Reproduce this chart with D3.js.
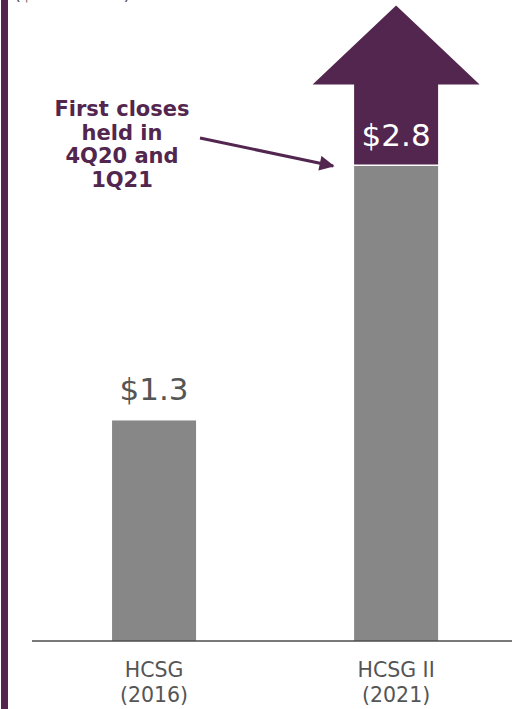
<!DOCTYPE html>
<html>
<head>
<meta charset="utf-8">
<script src="https://cdn.jsdelivr.net/npm/d3@7"></script>
<style>
  html, body { margin: 0; padding: 0; background: #fff; }
  svg { display: block; }
</style>
</head>
<body>
<script>
// Fund sizes, $ billions
const funds = ["HCSG", "HCSG II"];
const vintages = ["(2016)", "(2021)"];
const sizes = [1.3, 2.8];
const sizeLabels = ["$1.3", "$2.8"];
const unitNote = "($ in billions)";
const noteLines = ["First closes", "held in", "4Q20 and", "1Q21"];

const W = 528, H = 709;
const PURPLE = "#52264f";
const GREY = "#878787";
const TEXT = "#555555";
const FONT = "'DejaVu Sans', Verdana, sans-serif";

const svg = d3.select("body").append("svg")
  .attr("width", W).attr("height", H);

// side rule on the left edge
svg.append("rect")
  .attr("x", 1).attr("y", 0).attr("width", 7).attr("height", H)
  .attr("fill", PURPLE);

// unit note (runs off the top edge)
svg.append("text")
  .attr("x", 14).attr("y", 0)
  .attr("font-family", FONT).attr("font-size", 18)
  .attr("fill", TEXT)
  .text(unitNote);

const x = d3.scaleBand()
  .domain(funds)
  .range([32, 512])
  .paddingInner(0.653)
  .paddingOuter(0.318)
  .align(0.52);

const y = d3.scaleLinear()
  .domain([0, 2.8])
  .range([641, 166]);

const bw = x.bandwidth();

// bars
svg.selectAll("rect.bar")
  .data(funds)
  .join("rect")
  .attr("class", "bar")
  .attr("x", d => x(d))
  .attr("width", bw)
  .attr("y", (d, i) => y(sizes[i]))
  .attr("height", (d, i) => y(0) - y(sizes[i]))
  .attr("fill", GREY);

// growth arrow sitting on top of the second bar
const f2 = funds[1];
const shaftBottom = y(sizes[1]) - 1.5;
const shoulder = shaftBottom - 80;
const tip = shoulder - 79;
const x0 = x(f2), x1 = x(f2) + bw, cx = x(f2) + bw / 2;
const overhang = 41.5;
const arrowPath = d3.path();
arrowPath.moveTo(x0, shaftBottom);
arrowPath.lineTo(x0, shoulder);
arrowPath.lineTo(x0 - overhang, shoulder);
arrowPath.lineTo(cx, tip);
arrowPath.lineTo(x1 + overhang, shoulder);
arrowPath.lineTo(x1, shoulder);
arrowPath.lineTo(x1, shaftBottom);
arrowPath.closePath();
svg.append("path")
  .attr("d", arrowPath.toString())
  .attr("fill", PURPLE);

// value labels
svg.selectAll("text.value")
  .data(funds)
  .join("text")
  .attr("class", "value")
  .attr("x", d => x(d) + bw / 2)
  .attr("y", (d, i) => y(sizes[i]) - 20)
  .attr("text-anchor", "middle")
  .attr("font-family", FONT)
  .attr("font-size", 31)
  .attr("fill", (d, i) => i === 1 ? "#ffffff" : TEXT)
  .text((d, i) => sizeLabels[i]);

// baseline
svg.append("line")
  .attr("x1", x.range()[0]).attr("x2", x.range()[1])
  .attr("y1", y(0)).attr("y2", y(0))
  .attr("stroke", "#4d4d4d").attr("stroke-width", 1.5);

// category labels
const cat = svg.selectAll("text.cat")
  .data(funds)
  .join("text")
  .attr("class", "cat")
  .attr("text-anchor", "middle")
  .attr("font-family", FONT)
  .attr("font-size", 20.5)
  .attr("fill", TEXT);
cat.append("tspan")
  .attr("x", d => x(d) + bw / 2)
  .attr("y", y(0) + 36)
  .text(d => d);
cat.append("tspan")
  .attr("x", d => x(d) + bw / 2)
  .attr("y", y(0) + 61)
  .text((d, i) => vintages[i]);

// annotation
const note = svg.append("text")
  .attr("text-anchor", "middle")
  .attr("font-family", FONT)
  .attr("font-size", 21)
  .attr("font-weight", "bold")
  .attr("fill", PURPLE);
noteLines.forEach((t, i) => {
  note.append("tspan")
    .attr("x", 122)
    .attr("y", 116 + i * 23.5)
    .text(t);
});

svg.append("defs").append("marker")
  .attr("id", "head")
  .attr("viewBox", "0 0 10 10")
  .attr("refX", 9).attr("refY", 5)
  .attr("markerWidth", 6).attr("markerHeight", 5)
  .attr("markerUnits", "strokeWidth")
  .attr("orient", "auto")
  .append("path")
  .attr("d", "M0,0 L10,5 L0,10 Z")
  .attr("fill", PURPLE);

svg.append("line")
  .attr("x1", 200).attr("y1", 138)
  .attr("x2", x0 - 21).attr("y2", y(sizes[1]))
  .attr("stroke", PURPLE).attr("stroke-width", 3)
  .attr("marker-end", "url(#head)");
</script>
</body>
</html>
